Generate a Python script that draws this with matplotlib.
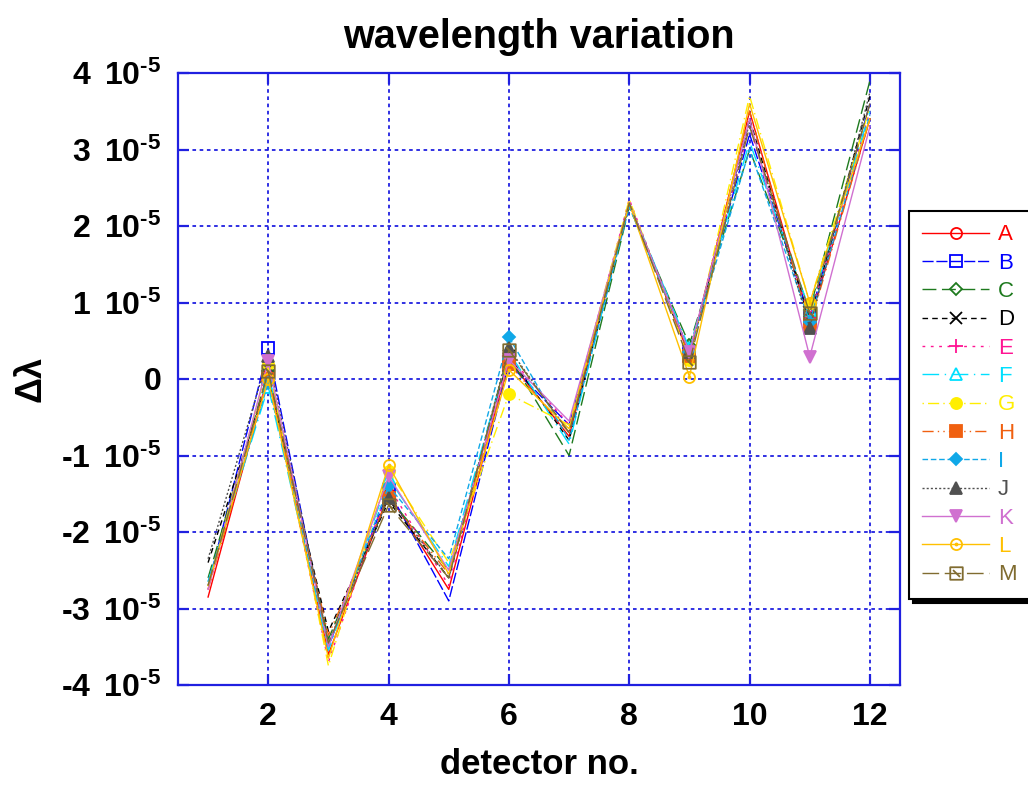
import matplotlib
matplotlib.use("Agg")
import matplotlib.pyplot as plt
from matplotlib.path import Path
from matplotlib.ticker import FixedLocator, FuncFormatter

plt.rcParams['font.family'] = ['Liberation Sans', 'DejaVu Sans']
plt.rcParams['mathtext.fontset'] = 'custom'
plt.rcParams['mathtext.rm'] = 'Liberation Sans:bold'
plt.rcParams['mathtext.it'] = 'Liberation Sans:bold'
plt.rcParams['mathtext.bf'] = 'Liberation Sans:bold'

# detector numbers
detectors = [1, 2, 3, 4, 5, 6, 7, 8, 9, 10, 11, 12]
# wavelength variation, in units of 1e-5
A = [-2.85, 0.05, -3.60, -1.50, -2.75, 0.25, -0.75, 2.30, 0.30, 3.50, 0.75, 3.40]
B = [-2.70, 0.40, -3.50, -1.45, -2.90, 0.20, -0.60, 2.30, 0.35, 3.20, 0.80, 3.60]
C = [-2.60, 0.10, -3.40, -1.55, -2.50, 0.30, -1.00, 2.25, 0.45, 3.00, 0.90, 3.90]
D = [-2.40, 0.00, -3.30, -1.60, -2.60, 0.30, -0.80, 2.30, 0.30, 3.40, 0.75, 3.70]
E = [-2.75, 0.05, -3.70, -1.40, -2.70, 0.30, -0.60, 2.35, 0.30, 3.30, 0.80, 3.50]
F = [-2.65, -0.10, -3.55, -1.30, -2.45, 0.35, -0.85, 2.30, 0.40, 3.10, 0.90, 3.50]
G = [-2.70, 0.20, -3.75, -1.20, -2.40, -0.20, -0.60, 2.35, 0.25, 3.70, 1.00, 3.55]
H = [-2.75, 0.00, -3.35, -1.55, -2.55, 0.20, -0.70, 2.30, 0.30, 3.50, 0.70, 3.40]
I = [-2.65, -0.05, -3.50, -1.40, -2.35, 0.55, -0.80, 2.25, 0.35, 3.00, 0.75, 3.45]
J = [-2.35, 0.30, -3.45, -1.55, -2.60, 0.40, -0.70, 2.30, 0.35, 3.35, 0.67, 3.75]
K = [-2.75, 0.23, -3.50, -1.27, -2.50, 0.25, -0.55, 2.30, 0.35, 3.40, 0.29, 3.30]
L = [-2.70, 0.00, -3.65, -1.13, -2.55, 0.12, -0.65, 2.30, 0.03, 3.60, 1.00, 3.40]
M = [-2.70, 0.10, -3.45, -1.65, -2.60, 0.38, -0.70, 2.30, 0.22, 3.30, 0.86, 3.60]

series_names = ['A', 'B', 'C', 'D', 'E', 'F', 'G', 'H', 'I', 'J', 'K', 'L', 'M']
series_values = [A, B, C, D, E, F, G, H, I, J, K, L, M]
y_ticks = [-4, -3, -2, -1, 0, 1, 2, 3, 4]
x_ticks = [2, 4, 6, 8, 10, 12]

# custom markers
sq_diag = Path([(-1, -1), (1, -1), (1, 1), (-1, 1), (-1, -1), (-0.55, 0.55), (0.55, -0.55)],
               [Path.MOVETO, Path.LINETO, Path.LINETO, Path.LINETO, Path.CLOSEPOLY,
                Path.MOVETO, Path.LINETO])
circ_dot = Path.make_compound_path(Path.circle((0, 0), 1.0), Path.circle((0, 0), 0.18))

styles = [
    dict(color='#ff0000', ls='-', marker='o', mfc='none'),
    dict(color='#0000ff', ls=(0, (8, 2)), marker='s', mfc='none'),
    dict(color='#1e7a1e', ls=(0, (10, 4)), marker='D', mfc='none', ms=6),
    dict(color='#000000', ls=(0, (4, 3)), marker='x'),
    dict(color='#ff1493', ls=(0, (2, 4)), marker='+', ms=10),
    dict(color='#00e0ff', ls=(0, (12, 4, 1, 4)), marker='^', mfc='none'),
    dict(color='#ffee00', ls=(0, (1, 3, 8, 3)), marker='o', mfc='#ffee00'),
    dict(color='#f06010', ls=(0, (8, 3, 1, 3, 1, 3)), marker='s', mfc='#f06010'),
    dict(color='#10a8e8', ls=(0, (4, 2)), marker='D', mfc='#10a8e8', ms=6),
    dict(color='#505050', ls=(0, (1.5, 1.5)), marker='^', mfc='#505050'),
    dict(color='#d070d0', ls='-', marker='v', mfc='#d070d0'),
    dict(color='#ffc000', ls='-', marker=circ_dot, mfc='none'),
    dict(color='#806c30', ls=(0, (12, 4)), marker=sq_diag, mfc='none', ms=9),
]

fig = plt.figure(figsize=(10.28, 7.88), dpi=100)
ax = fig.add_axes([178 / 1028, 1 - 685 / 788, 722 / 1028, 612 / 788])

handles = []
for name, vals, st in zip(series_names, series_values, styles):
    st = dict(st)
    ms = st.pop('ms', 8)
    h, = ax.plot(detectors, vals, lw=1.0, ms=ms, mew=1.3,
                 markevery=[1, 3, 5, 8, 10], label=name, **st)
    handles.append(h)

ax.set_xlim(0.5, 12.5)
ax.set_ylim(-4, 4)
ax.xaxis.set_major_locator(FixedLocator(x_ticks))
ax.yaxis.set_major_locator(FixedLocator(y_ticks))


def yfmt(v, pos):
    n = int(round(v))
    if n == 0:
        return '0'
    sign = r'\text{-}' if n < 0 else ''
    return r'$%s%d\ \,10^{\text{-}5}$' % (sign, abs(n))


ax.yaxis.set_major_formatter(FuncFormatter(yfmt))
ax.xaxis.set_major_formatter(FuncFormatter(lambda v, p: '%d' % v))

for sp in ax.spines.values():
    sp.set_color('#2020e0')
    sp.set_linewidth(1.6)
ax.tick_params(direction='in', length=8, width=1.6, color='#2020e0',
               top=True, right=True, labelsize=23, pad=12)
for lab in ax.get_xticklabels() + ax.get_yticklabels():
    lab.set_fontweight('bold')
ax.grid(True, color='#2020e0', ls=(0, (2, 2)), lw=1.3)
ax.set_axisbelow(True)

ax.set_title('wavelength variation', fontsize=28.5, fontweight='bold', pad=18)
ax.set_xlabel('detector no.', fontsize=25, fontweight='bold', labelpad=12)
ax.set_ylabel('Δλ', fontsize=26, fontweight='bold')
ax.yaxis.label.set_rotation_mode('default')
ax.yaxis.label.set_verticalalignment('center')
ax.yaxis.label.set_horizontalalignment('center')
ax.yaxis.set_label_coords((31 - 178) / 722, 0.5)

leg = fig.legend(handles=handles, loc='upper left',
                 bbox_to_anchor=(909 / 1028, 1 - 211 / 788), borderaxespad=0,
                 fontsize=16, handlelength=3.0, labelspacing=0.33,
                 handletextpad=0.4, borderpad=0.6, numpoints=1,
                 labelcolor='linecolor', fancybox=False, markerscale=1.0,
                 shadow={'color': 'black', 'alpha': 1.0, 'ox': 3, 'oy': -3})
leg.get_frame().set_edgecolor('black')
leg.get_frame().set_linewidth(1.5)
for t, h in zip(leg.get_texts(), handles):
    t.set_color(h.get_color())

fig.savefig('out.png', dpi=100)
